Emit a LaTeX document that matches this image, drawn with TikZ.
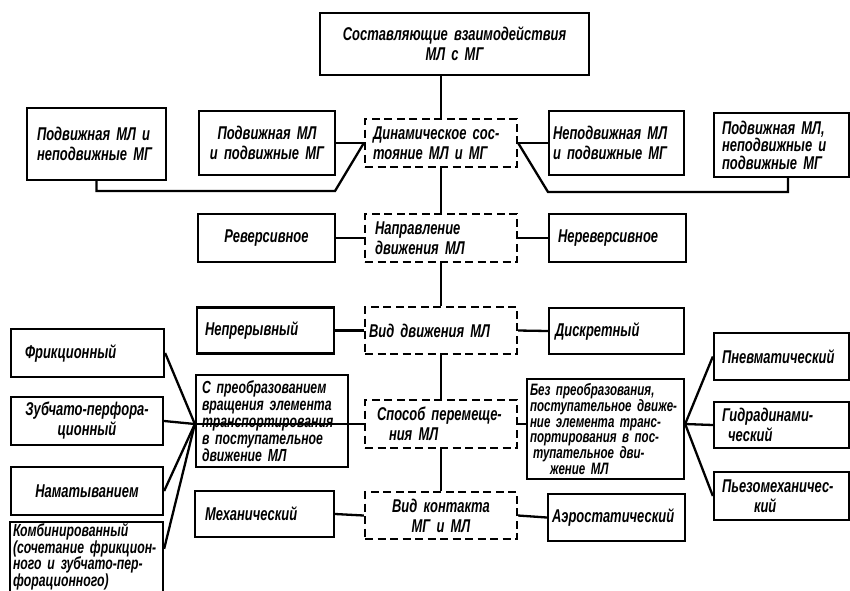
\documentclass[tikz,border=0pt]{standalone}
\usepackage{fontspec}
\setmainfont{Liberation Sans}[FakeStretch=0.7]
\begin{document}
\hyphenpenalty=10000
\exhyphenpenalty=10000
\begin{tikzpicture}[x=1pt,y=-1pt,
  box/.style={draw, line width=2.3pt, align=left, inner ysep=2pt,
    font=\bfseries\itshape\fontsize{18.5}{20}\selectfont},
  dbox/.style={box, dash pattern=on 8pt off 4.5pt},
  small/.style={font=\bfseries\itshape\fontsize{18.5}{17.5}\selectfont},
  dense/.style={font=\bfseries\itshape\fontsize{17.5}{17}\selectfont},
  tiny/.style={font=\bfseries\itshape\fontsize{16.5}{15.8}\selectfont},
  combf/.style={font=\bfseries\itshape\fontsize{17.5}{16.5}\selectfont},
  link/.style={line width=2.3pt}]
\useasboundingbox (0,0) rectangle (850,590);

% root
\node[box, align=center, text width=253pt, inner xsep=8pt, minimum height=62pt] (top) at (454.5,44)
  {Составляющие взаимодействия\\МЛ с МГ};

% central chain of criteria (dashed)
\node[dbox, text width=136pt, inner xsep=8pt, minimum height=48pt] (dyn) at (441,143)
  {Динамическое сос-\\тояние МЛ и МГ};
\node[dbox, text width=132pt, inner xsep=10pt, minimum height=48pt] (dir) at (441,238)
  {Направление\\движения МЛ};
\node[dbox, text width=144pt, inner xsep=4pt, minimum height=47pt] (kind) at (441,330.5)
  {Вид движения МЛ};
\node[dbox, text width=128pt, inner xsep=12pt, minimum height=48pt] (way) at (441,424)
  {Способ перемеще-\\\hspace*{12pt}ния МЛ};
\node[dbox, align=center, text width=140pt, inner xsep=6pt, minimum height=47pt] (cont) at (441,515.5)
  {Вид контакта\\МГ и МЛ};

% dynamic state
\node[box, text width=119pt, inner xsep=10pt, minimum height=72pt] (b1) at (96.5,144)
  {Подвижная МЛ и\\неподвижные МГ};
\node[box, align=center, text width=124pt, inner xsep=6pt, minimum height=64pt] (b2) at (267,143)
  {Подвижная МЛ\\и подвижные МГ};
\node[box, text width=127pt, inner xsep=4pt, minimum height=64pt] (b4) at (616.5,143)
  {Неподвижная МЛ\\и подвижные МГ};
\node[box, small, text width=119pt, inner xsep=8pt, minimum height=64pt] (b5) at (781.5,145)
  {Подвижная МЛ,\\неподвижные и\\подвижные МГ};

% direction
\node[box, align=center, text width=125pt, inner xsep=6pt, minimum height=48pt] (rev) at (266.5,238)
  {Реверсивное};
\node[box, text width=119pt, inner xsep=9pt, minimum height=48pt] (nonrev) at (617.5,238)
  {Нереверсивное};

% kind of motion
\node[box, text width=121pt, inner xsep=8pt, minimum height=46pt] (cnt) at (265.5,330.5)
  {Непрерывный};
\node[box, text width=123pt, inner xsep=6pt, minimum height=46pt] (disc) at (616.5,331)
  {Дискретный};

% way of displacement
\node[box, dense, text width=140pt, inner xsep=6pt, minimum height=92pt] (conv) at (272,421)
  {\mbox{С преобразованием}\\\mbox{вращения элемента}\\транспортирования\\\mbox{в поступательное}\\\mbox{движение МЛ}};
\node[box, tiny, text width=151pt, inner xsep=3pt, minimum height=100pt] (noconv) at (605.5,429)
  {\mbox{Без преобразования,}\\\mbox{поступательное движе-}\\\mbox{ние элемента транс-}\\\mbox{портирования в пос-}\\\mbox{\hspace*{3pt}тупательное дви-}\\\mbox{\hspace*{20pt}жение МЛ}};

% drives with conversion
\node[box, text width=125pt, inner xsep=14pt, minimum height=48pt] (fric) at (87.5,353)
  {Фрикционный};
\node[box, align=center, text width=140pt, inner xsep=6pt, minimum height=48pt] (zub) at (87,421)
  {Зубчато-перфора-\\ционный};
\node[box, align=center, text width=140pt, inner xsep=6pt, minimum height=48pt] (nam) at (87,491)
  {Наматыванием};
\node[box, combf, text width=147pt, inner xsep=3pt, minimum height=70pt] (comb) at (86.5,557)
  {Комбинированный\\\mbox{(сочетание фрикцион-}\\\mbox{ного и зубчато-пер-}\\форационного)};

% drives without conversion
\node[box, text width=119pt, inner xsep=8pt, minimum height=47pt] (pneu) at (781.5,356.5)
  {Пневматический};
\node[box, text width=119pt, inner xsep=8pt, minimum height=46pt] (hydro) at (781.5,425)
  {Гидрадинами-\\\hspace*{6pt}ческий};
\node[box, text width=119pt, inner xsep=8pt, minimum height=48pt] (piezo) at (781.5,496)
  {Пьезомеханичес-\\\hspace*{32pt}кий};

% contact
\node[box, text width=119pt, inner xsep=10pt, minimum height=46pt] (mech) at (264.5,514)
  {Механический};
\node[box, text width=129pt, inner xsep=4pt, minimum height=47pt] (aero) at (616.5,517.5)
  {Аэростатический};

% junction points
\coordinate (jl) at (335,191);
\coordinate (jr) at (548,192);
\coordinate (jr2) at (788,192);
\coordinate (cl) at (conv.west |- way.west);
\coordinate (cr) at (noconv.east |- way.east);

% spine
\draw[link] (top.south -| dyn.north) -- (dyn.north);
\draw[link] (dyn.south) -- (dir.north);
\draw[link] (dir.south) -- (kind.north);
\draw[link] (kind.south) -- (way.north);
\draw[link] (way.south) -- (cont.north);

% branches
\draw[link] (b2.east) -- (dyn.west);
\draw[link] (b1.south) |- (jl) -- (dyn.west);
\draw[link] (dyn.east) -- (b4.west);
\draw[link] (dyn.east) -- (jr) -- (jr2) -- (jr2 |- b5.south);

\draw[link] (rev.east) -- (dir.west);
\draw[link] (dir.east) -- (nonrev.west);

\draw[link] (cnt.east) -- (kind.west);
\draw[link] (kind.east) -- (disc.west);

\draw[link] (cl) -- (way.west);
\draw[link] (way.east) -- (noconv.west |- way.east);

\draw[link] (fric.east) -- (cl);
\draw[link] (zub.east) -- (cl);
\draw[link] (nam.east) -- (cl);
\draw[link] ([yshift=-28pt]comb.north east) -- (cl);

\draw[link] (cr) -- (pneu.west);
\draw[link] (cr) -- (hydro.west);
\draw[link] (cr) -- (piezo.west);

\draw[link] (mech.east) -- (cont.west);
\draw[link] (cont.east) -- (aero.west);
\end{tikzpicture}
\end{document}
